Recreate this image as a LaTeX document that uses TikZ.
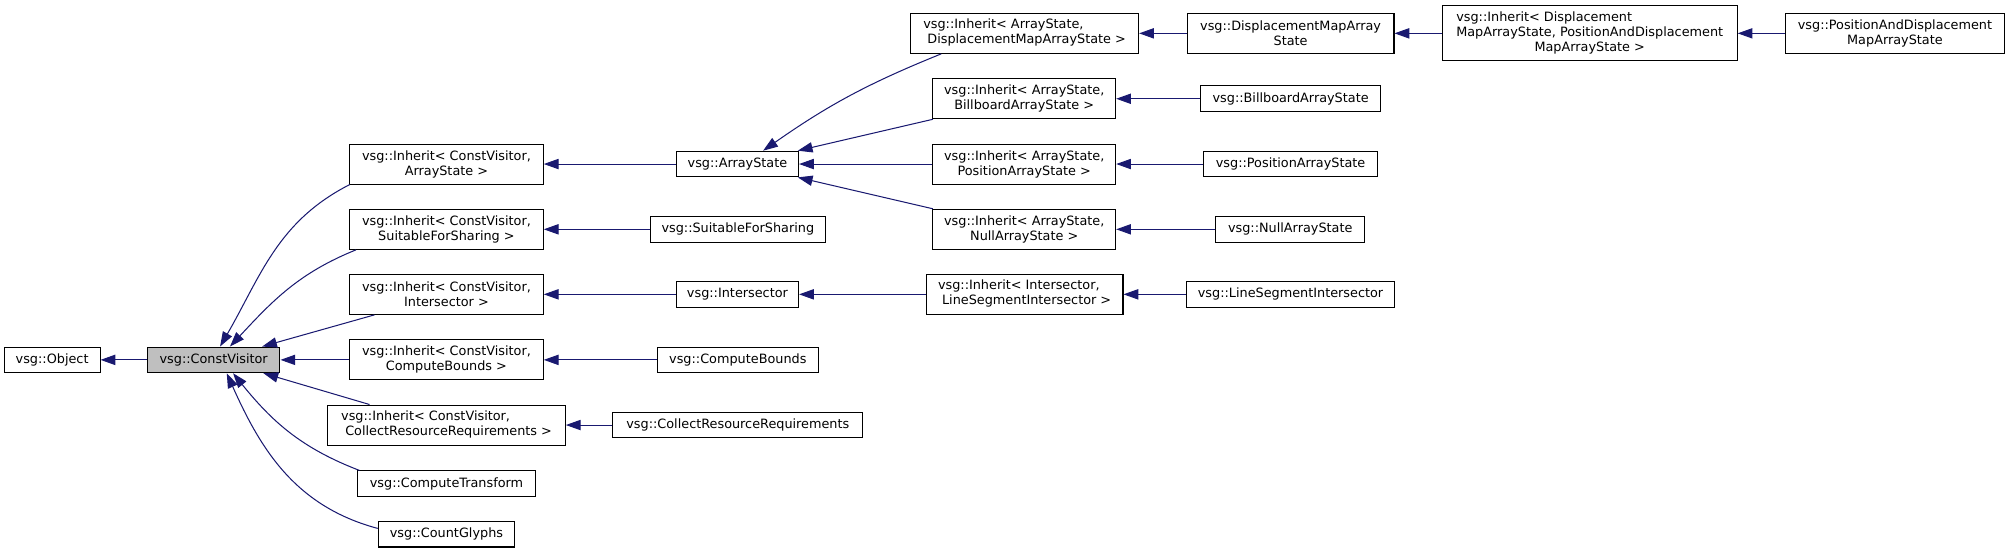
\documentclass[tikz,border=0pt]{standalone}
\usepackage{fontspec}
\setmainfont{DejaVu Sans}
\usetikzlibrary{arrows.meta}
\definecolor{edgeblue}{RGB}{25,25,112}
\definecolor{cvgray}{RGB}{191,191,191}
\newcommand{\lfirst}[2]{\begin{tabular}{@{}l@{}}#1\\\multicolumn{1}{@{}c@{}}{#2}\end{tabular}}
\tikzset{
  cls/.style={draw=black, line width=0.8pt, fill=white, inner sep=0pt, align=center,
    font=\fontsize{10}{11.7}\selectfont},
  one/.style={cls, minimum height=20pt},
  two/.style={cls, minimum height=31.2pt},
  edge/.style={draw=edgeblue, line width=0.8pt, -{Triangle[length=11.5pt,width=8pt]}}
}
\begin{document}
\begin{tikzpicture}[x=1pt,y=1pt]
\useasboundingbox (0,0) rectangle (1568,-431);
% column 1
\node[one, minimum width=74.7pt] (obj) at (40.65,-280.6) {vsg::Object};
\node[one, minimum width=103.4pt, fill=cvgray] (cv) at (166.6,-280.6) {vsg::ConstVisitor};
% column 2
\node[two, minimum width=151pt] (icvas) at (348.1,-127.9) {vsg::Inherit< ConstVisitor,\\ArrayState >};
\node[two, minimum width=151pt] (icvsfs) at (348.1,-178.8) {vsg::Inherit< ConstVisitor,\\SuitableForSharing >};
\node[two, minimum width=151pt] (icvi) at (348.1,-229.5) {vsg::Inherit< ConstVisitor,\\Intersector >};
\node[two, minimum width=151pt] (icvcb) at (348.1,-280.6) {vsg::Inherit< ConstVisitor,\\ComputeBounds >};
\node[two, minimum width=185.2pt] (icvcrr) at (348.2,-331.4) {\lfirst{vsg::Inherit< ConstVisitor,}{\ CollectResourceRequirements >}};
\node[one, minimum width=138.7pt] (ctr) at (348.15,-377.2) {vsg::ComputeTransform};
\node[one, minimum width=106.4pt] (cg) at (348.1,-416.5) {vsg::CountGlyphs};
% column 3
\node[one, minimum width=95.3pt] (as) at (575,-127.9) {vsg::ArrayState};
\node[one, minimum width=136.5pt] (sfs) at (575.3,-178.8) {vsg::SuitableForSharing};
\node[one, minimum width=95.3pt] (isect) at (575,-229.5) {vsg::Intersector};
\node[one, minimum width=125.3pt] (cb) at (575.3,-280.6) {vsg::ComputeBounds};
\node[one, minimum width=194.9pt] (crr) at (575.3,-331.4) {vsg::CollectResourceRequirements};
% column 4
\node[two, minimum width=177.8pt] (iasdmas) at (798.9,-26) {\lfirst{vsg::Inherit< ArrayState,}{\ DisplacementMapArrayState >}};
\node[two, minimum width=142.6pt] (iasbas) at (798.6,-77) {vsg::Inherit< ArrayState,\\BillboardArrayState >};
\node[two, minimum width=142.6pt] (iaspas) at (798.6,-127.9) {vsg::Inherit< ArrayState,\\PositionArrayState >};
\node[two, minimum width=142.6pt] (iasnas) at (798.6,-178.8) {vsg::Inherit< ArrayState,\\NullArrayState >};
\node[two, minimum width=153.4pt] (iislsi) at (798.9,-229.5) {\lfirst{vsg::Inherit< Intersector,}{\ LineSegmentIntersector >}};
% column 5
\node[two, minimum width=161.2pt] (dmas) at (1006.3,-26) {vsg::DisplacementMapArray\\State};
\node[one, minimum width=140.2pt] (bas) at (1006.3,-77) {vsg::BillboardArrayState};
\node[one, minimum width=136pt] (pas) at (1006.3,-127.9) {vsg::PositionArrayState};
\node[one, minimum width=115.8pt] (nas) at (1006,-178.8) {vsg::NullArrayState};
\node[one, minimum width=162.3pt] (lsi) at (1006.25,-229.5) {vsg::LineSegmentIntersector};
% column 6, 7
\node[cls, minimum width=230pt, minimum height=43pt] (idp) at (1239.5,-26) {\begin{tabular}{@{}l@{}}vsg::Inherit< Displacement\\MapArrayState, PositionAndDisplacement\\\multicolumn{1}{@{}c@{}}{MapArrayState >}\end{tabular}};
\node[two, minimum width=171pt] (padmas) at (1477.5,-26) {vsg::PositionAndDisplacement\\MapArrayState};
% edges
\draw[edge] (cv) -- (obj);
\draw[edge] ([xshift=0.5pt]icvas.south west) to[out=207, in=60] ([xshift=5pt]cv.north);
\draw[edge] ([xshift=5.4pt]icvsfs.south west) to[out=202, in=47] ([xshift=12.7pt]cv.north);
\draw[edge] ([xshift=19.8pt]icvi.south west) -- ([xshift=-14.3pt]cv.north east);
\draw[edge] (icvcb) -- (cv);
\draw[edge] ([xshift=32.9pt]icvcrr.north west) -- ([xshift=-13.3pt]cv.south east);
\draw[edge] ([xshift=1.9pt]ctr.north west) to[out=159, in=-51] ([xshift=15.1pt]cv.south);
\draw[edge] ([yshift=4.5pt]cg.west) to[out=165, in=-66] ([xshift=10.2pt]cv.south);
\draw[edge] (as) -- (icvas);
\draw[edge] (sfs) -- (icvsfs);
\draw[edge] (isect) -- (icvi);
\draw[edge] (cb) -- (icvcb);
\draw[edge] (crr) -- (icvcrr);
\draw[edge] ([xshift=24.3pt]iasdmas.south west) to[out=202, in=35] ([xshift=20pt]as.north);
\draw[edge] ([xshift=0.5pt]iasbas.south west) -- ([xshift=-1pt]as.north east);
\draw[edge] (iaspas) -- (as);
\draw[edge] ([xshift=0.5pt]iasnas.north west) -- ([xshift=-1pt]as.south east);
\draw[edge] (iislsi) -- (isect);
\draw[edge] (dmas) -- (iasdmas);
\draw[edge] (bas) -- (iasbas);
\draw[edge] (pas) -- (iaspas);
\draw[edge] (nas) -- (iasnas);
\draw[edge] (lsi) -- (iislsi);
\draw[edge] (idp) -- (dmas);
\draw[edge] (padmas) -- (idp);
\end{tikzpicture}
\end{document}
